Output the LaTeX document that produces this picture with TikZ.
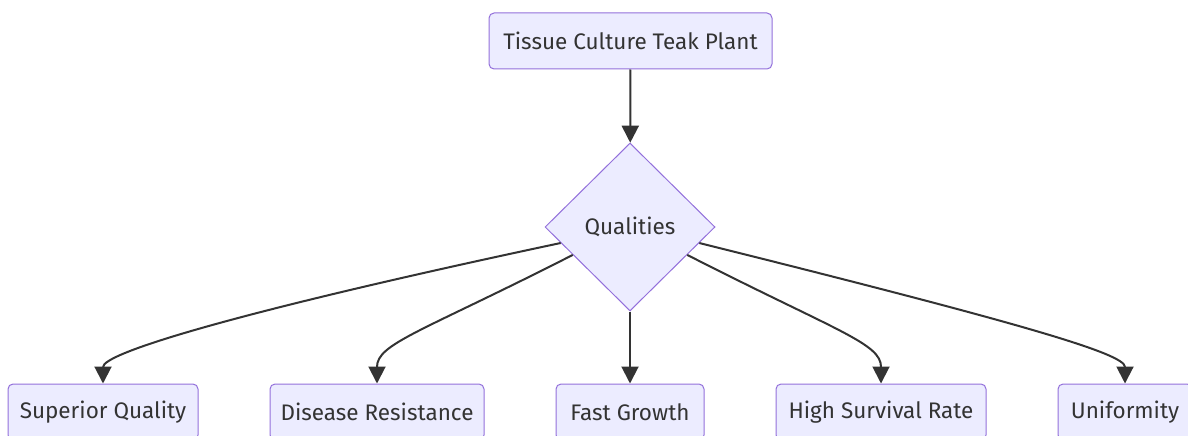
\documentclass[tikz,border=0pt]{standalone}
\usepackage{fontspec}
\setmainfont{Fira Sans}
\usetikzlibrary{shapes.geometric,arrows.meta}
\definecolor{boxfill}{HTML}{ECECFF}
\definecolor{boxline}{HTML}{9370DB}
\definecolor{edgecol}{HTML}{333333}

\begin{document}
\begin{tikzpicture}[x=1pt,y=1pt,
  box/.style={draw=boxline,fill=boxfill,rounded corners=5pt,line width=1pt,minimum height=56pt,inner sep=0pt,text=edgecol,font=\fontsize{22.5}{27}\selectfont},
  dec/.style={diamond,draw=boxline,fill=boxfill,line width=1pt,minimum width=170pt,minimum height=168pt,inner sep=0pt,text=edgecol,font=\fontsize{22.5}{27}\selectfont},
  link/.style={draw=edgecol,line width=2pt,-{Triangle[length=17pt,width=17pt]}}]
  \useasboundingbox (0,0) rectangle (1188,-436);
  \node[box,minimum width=283pt] (plant) at (630.5,-41) {Tissue Culture Teak Plant};
  \node[dec] (qual) at (630,-227) {Qualities};

  \node[box,minimum width=190pt] (sq) at (103,-412) {Superior Quality};
  \node[box,minimum width=214pt] (dr) at (377,-412) {Disease Resistance};
  \node[box,minimum width=148pt] (fg) at (630,-412) {Fast Growth};
  \node[box,minimum width=210pt] (hs) at (881,-412) {High Survival Rate};
  \node[box,minimum width=134pt] (un) at (1125,-412) {Uniformity};

  \draw[link] (plant) -- (qual);
  \draw[link] (qual.193) .. controls +(192:340) and +(90:30) .. (sq.north);
  \draw[link] (qual.206) .. controls +(207:170) and +(90:40) .. (dr.north);
  \draw[link] (qual) -- (fg);
  \draw[link] (qual.-26) .. controls +(-27:170) and +(90:40) .. (hs.north);
  \draw[link] (qual.-13) .. controls +(-14:330) and +(90:30) .. (un.north);
\end{tikzpicture}
\end{document}
